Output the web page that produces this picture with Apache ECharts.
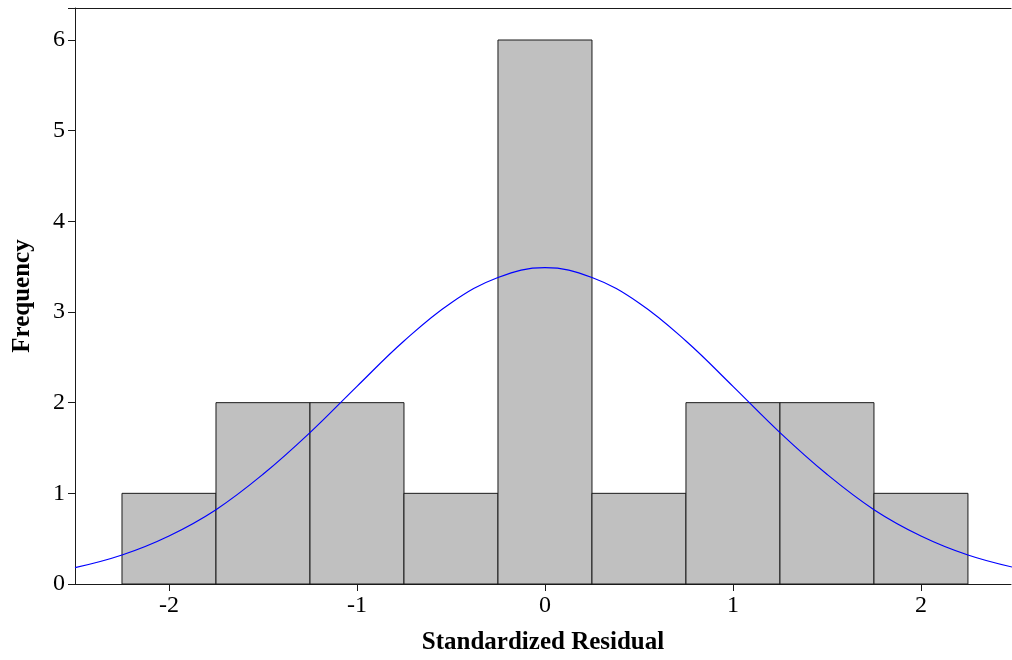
<!DOCTYPE html>
<html>
<head>
<meta charset="utf-8">
<script src="https://cdn.jsdelivr.net/npm/echarts@6/dist/echarts.min.js"></script>
<style>
  html, body { margin: 0; padding: 0; background: #fff; }
  #chart { width: 1012px; height: 660px; }
</style>
</head>
<body>
<div id="chart"></div>
<script>
// Histogram bins (lower edge, upper edge) and counts
const binStarts = [-2.25, -1.75, -1.25, -0.75, -0.25, 0.25, 0.75, 1.25, 1.75];
const binEnds   = [-1.75, -1.25, -0.75, -0.25, 0.25, 0.75, 1.25, 1.75, 2.25];
const counts    = [1, 2, 2, 1, 6, 1, 2, 2, 1];

// Fitted normal curve, sampled along the residual axis
const curveX = [-2.5, -2.25, -2.0, -1.75, -1.5, -1.25, -1.0, -0.75, -0.5, -0.25, 0,
                0.25, 0.5, 0.75, 1.0, 1.25, 1.5, 1.75, 2.0, 2.25, 2.5];
const curveY = [0.18, 0.32, 0.53, 0.82, 1.21, 1.67, 2.18, 2.68, 3.10, 3.38, 3.49,
                3.38, 3.10, 2.68, 2.18, 1.67, 1.21, 0.82, 0.53, 0.32, 0.18];

const xTicks = [-2, -1, 0, 1, 2];

const font = 'Liberation Serif, Times New Roman, serif';
const ink = '#1a1a1a';

const barData = binStarts.map((s, i) => [s, binEnds[i], counts[i]]);
const lineData = curveX.map((x, i) => [x, curveY[i]]);

const chart = echarts.init(document.getElementById('chart'), null, { renderer: 'canvas' });
chart.setOption({
  animation: false,
  backgroundColor: '#fff',
  grid: {
    left: 75, top: 8, right: 1, bottom: 76,
    show: false,
    containLabel: false,
    outerBoundsMode: 'none'
  },
  xAxis: [
    {
      type: 'value', min: -2.5, max: 2.479, interval: 0.5,
      name: 'Standardized Residual', nameLocation: 'middle', nameGap: 46,
      nameTextStyle: { fontFamily: font, fontWeight: 'bold', fontSize: 25, color: '#000' },
      axisLine: { show: true, onZero: false, lineStyle: { color: ink, width: 1 } },
      axisTick: { show: true, length: 7, inside: false, lineStyle: { color: ink },
        customValues: xTicks },
      axisLabel: { fontFamily: font, fontSize: 24, color: '#000', margin: 10,
        customValues: xTicks, formatter: v => String(v) },
      splitLine: { show: false }
    },
    {
      // top frame line
      type: 'value', position: 'top', min: -2.5, max: 2.479,
      axisLine: { show: true, onZero: false, lineStyle: { color: ink, width: 1 } },
      axisTick: { show: false }, axisLabel: { show: false }, splitLine: { show: false }
    }
  ],
  yAxis: {
    type: 'value', min: 0, max: 6.353, interval: 1,
    name: 'Frequency', nameLocation: 'middle', nameGap: 40, nameRotate: 90,
    nameTextStyle: { fontFamily: font, fontWeight: 'bold', fontSize: 25, color: '#000' },
    axisLine: { show: true, onZero: false, lineStyle: { color: ink, width: 1 } },
    axisTick: { show: true, length: 7, inside: false, lineStyle: { color: ink } },
    axisLabel: { fontFamily: font, fontSize: 24, color: '#000', margin: 10,
      formatter: v => (Number.isInteger(v) ? String(v) : '') },
    splitLine: { show: false }
  },
  series: [
    {
      type: 'custom',
      data: barData,
      encode: { x: [0, 1], y: 2 },
      renderItem: function (params, api) {
        const p0 = api.coord([api.value(0), 0]);
        const p1 = api.coord([api.value(1), api.value(2)]);
        return {
          type: 'rect',
          shape: { x: p0[0], y: p1[1], width: p1[0] - p0[0], height: p0[1] - p1[1] },
          style: { fill: '#c0c0c0', stroke: ink, lineWidth: 1 }
        };
      },
      z: 1
    },
    {
      type: 'line',
      data: lineData,
      smooth: 0.4,
      showSymbol: false,
      clip: true,
      lineStyle: { color: '#0000ff', width: 1.2 },
      z: 3
    }
  ]
});
</script>
</body>
</html>
